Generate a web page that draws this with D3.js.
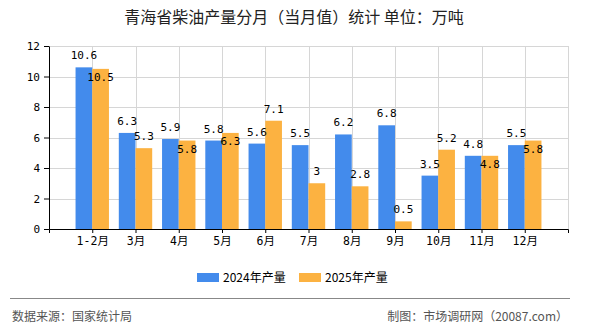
<!DOCTYPE html>
<html>
<head>
<meta charset="utf-8">
<script src="https://cdn.jsdelivr.net/npm/d3@7"></script>
<style>
    body { margin: 0; background: #fff; }
    svg { display: block; }
    .tick text { font-family: "DejaVu Sans Mono", "Noto Sans CJK SC", monospace; font-size: 11px; fill: #000; }
</style>
</head>
<body>
<svg id="chart" width="590" height="330"></svg>
<script>
// Data
const months = ['1-2月', '3月', '4月', '5月', '6月', '7月', '8月', '9月', '10月', '11月', '12月'];
const output2024 = [10.6, 6.3, 5.9, 5.8, 5.6, 5.5, 6.2, 6.8, 3.5, 4.8, 5.5];
const output2025 = [10.5, 5.3, 5.8, 6.3, 7.1, 3, 2.8, 0.5, 5.2, 4.8, 5.8];
const yTicks = [0, 2, 4, 6, 8, 10, 12];
const seriesNames = ['2024年产量', '2025年产量'];
const colors = ['#438bec', '#fcb241'];

(function() {
    'use strict';

    const svg = d3.select('#chart');
    const left = 49, right = 568, top = 46, bottom = 229;

    const x = d3.scalePoint().domain(months).range([left, right]).padding(1);
    const y = d3.scaleLinear().domain([0, 12]).range([bottom, top]);
    const bw = 16.7;

    // Title
    svg.append('text')
        .attr('x', 294).attr('y', 23)
        .attr('text-anchor', 'middle')
        .style('font-family', '"Noto Sans CJK SC", sans-serif')
        .style('font-size', '16px')
        .style('fill', '#222')
        .text('青海省柴油产量分月（当月值）统计 单位：万吨');

    // Grid
    const grid = svg.append('g').attr('stroke', '#d6d6d6').attr('stroke-width', 1);
    yTicks.forEach(t => {
        const yy = Math.round(y(t)) + 0.5;
        grid.append('line').attr('x1', left).attr('x2', right + 0.5).attr('y1', yy).attr('y2', yy);
    });
    months.map(m => x(m)).concat([right]).forEach(xx => {
        const px = Math.round(xx) + 0.5;
        grid.append('line').attr('x1', px).attr('x2', px).attr('y1', Math.round(top)).attr('y2', bottom);
    });

    // Bars
    const bars = svg.append('g');
    months.forEach((m, i) => {
        bars.append('rect')
            .attr('x', x(m) - bw).attr('y', y(output2024[i]))
            .attr('width', bw).attr('height', y(0) - y(output2024[i]))
            .attr('fill', colors[0]);
        bars.append('rect')
            .attr('x', x(m)).attr('y', y(output2025[i]))
            .attr('width', bw).attr('height', y(0) - y(output2025[i]))
            .attr('fill', colors[1]);
    });

    // Axes
    svg.append('g')
        .attr('transform', `translate(${left},0)`)
        .call(d3.axisLeft(y).tickValues(yTicks).tickSize(5).tickSizeOuter(0).tickPadding(4))
        .call(g => g.selectAll('path, line').attr('stroke', '#000'));

    svg.append('g')
        .attr('transform', `translate(0,${bottom})`)
        .call(d3.axisBottom(x).tickSize(4).tickSizeOuter(4).tickPadding(4))
        .call(g => g.selectAll('path, line').attr('stroke', '#000'))
        .call(g => g.selectAll('.tick text').style('font-size', '11.5px'));

    // Value labels; the 2025 label drops inside its bar when it would hit the 2024 label
    const labels = svg.append('g')
        .style('font-family', '"DejaVu Sans Mono", monospace')
        .style('font-size', '11px')
        .attr('text-anchor', 'middle')
        .attr('fill', '#000');
    months.forEach((m, i) => {
        const ya = y(output2024[i]) - 12;
        let yb = y(output2025[i]) - 12;
        if (Math.abs(ya - yb) < 12) yb = y(output2025[i]) + 8;
        labels.append('text')
            .attr('x', x(m) - bw / 2).attr('y', ya + 4)
            .text(output2024[i]);
        labels.append('text')
            .attr('x', x(m) + bw / 2).attr('y', yb + 4)
            .text(output2025[i]);
    });

    // Legend
    const legend = svg.append('g');
    seriesNames.forEach((name, i) => {
        const lx = 197 + i * 102;
        legend.append('rect')
            .attr('x', lx).attr('y', 273)
            .attr('width', 22).attr('height', 9)
            .attr('fill', colors[i]);
        legend.append('text')
            .attr('x', lx + 26).attr('y', 282)
            .style('font-family', '"Noto Sans CJK SC", sans-serif')
            .style('font-size', '12px')
            .attr('fill', '#000')
            .text(name);
    });

    // Footer
    svg.append('line')
        .attr('x1', 10).attr('x2', 570)
        .attr('y1', 298.5).attr('y2', 298.5)
        .attr('stroke', '#888').attr('stroke-width', 1.2);

    svg.append('text')
        .attr('x', 12).attr('y', 321)
        .style('font-family', '"Noto Sans CJK SC", sans-serif')
        .style('font-size', '12px')
        .attr('fill', '#555')
        .text('数据来源：国家统计局');

    svg.append('text')
        .attr('x', 568).attr('y', 321)
        .attr('text-anchor', 'end')
        .style('font-family', '"Noto Sans CJK SC", sans-serif')
        .style('font-size', '12px')
        .attr('fill', '#555')
        .text('制图：市场调研网（20087.com）');
})();
</script>
</body>
</html>
